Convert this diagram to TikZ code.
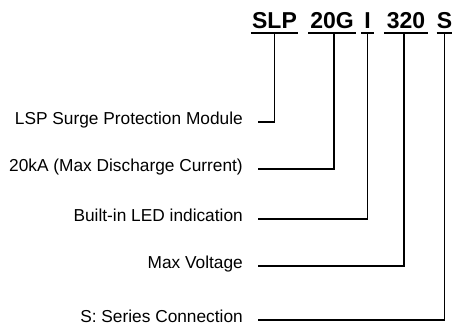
\documentclass[tikz,border=0pt]{standalone}
\usepackage{fontspec}
\setmainfont{Liberation Sans}
\usepackage{tikz}
\usetikzlibrary{positioning}
\tikzset{
  codepart/.style={font=\fontsize{23}{23}\selectfont\bfseries,inner sep=0pt,anchor=base},
  desctext/.style={font=\fontsize{17.3}{17.3}\selectfont,inner sep=0pt,anchor=mid east},
  leader/.style={line width=1.2pt}
}

\begin{document}
\begin{tikzpicture}[x=1pt,y=-1pt,line join=miter]
 \useasboundingbox (0,0) rectangle (460,332);
 % model code
 \node[codepart,minimum width=47pt] (codeSLP) at (274.5,28) {SLP};
 \node[codepart,minimum width=47pt] (code20G) at (332,28) {20G};
 \node[codepart,minimum width=12pt] (codeI) at (367.5,28) {I};
 \node[codepart,minimum width=44pt] (code320) at (406,28) {320};
 \node[codepart,minimum width=14pt] (codeS) at (444.5,28) {S};
 \foreach \c in {codeSLP,code20G,codeI,code320,codeS}
  \draw[line width=1.6pt] ([yshift=-5pt]\c.base west) -- ([yshift=-5pt]\c.base east);
 % meanings
 \node[desctext] (descModule) at (243,122) {LSP Surge Protection Module};
 \node[desctext] (descCurrent) at (243,169) {20kA (Max Discharge Current)};
 \node[desctext] (descLED) at (243,219) {Built-in LED indication};
 \node[desctext] (descVoltage) at (243,266) {Max Voltage\ };
 \node[desctext] (descSeries) at (243,320) {S: Series Connection};
 \draw[leader] ([xshift=15pt]descModule.mid east) -| ([yshift=-5pt]codeSLP.base);
 \draw[leader] ([xshift=15pt]descCurrent.mid east) -| ([xshift=2pt,yshift=-5pt]code20G.base);
 \draw[leader] ([xshift=15pt]descLED.mid east) -| ([yshift=-5pt]codeI.base);
 \draw[leader] ([xshift=15pt]descVoltage.mid east) -| ([xshift=-2pt,yshift=-5pt]code320.base);
 \draw[leader] ([xshift=15pt]descSeries.mid east) -| ([yshift=-5pt]codeS.base);
\end{tikzpicture}
\end{document}
